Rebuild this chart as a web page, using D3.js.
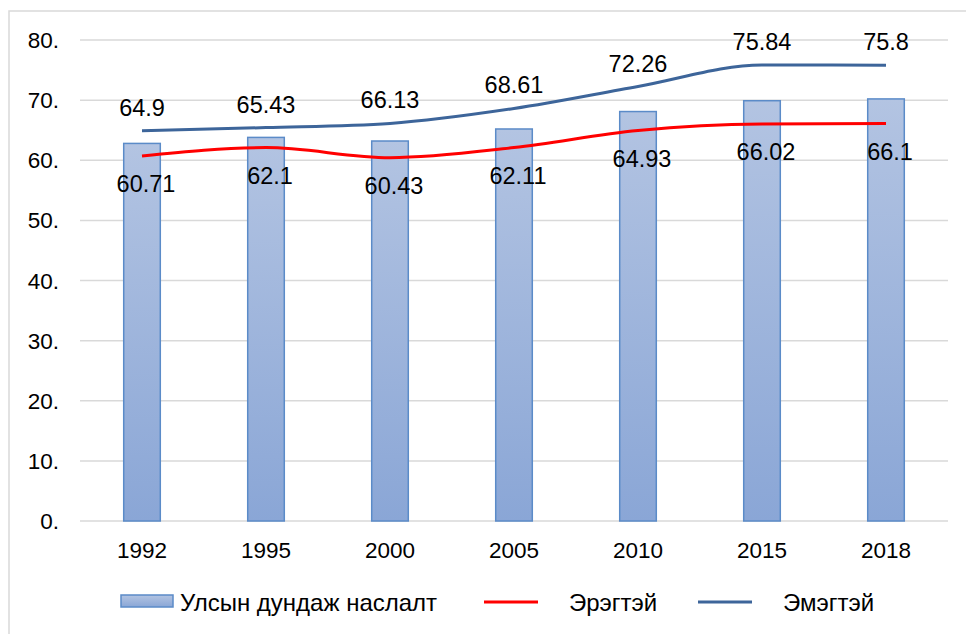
<!DOCTYPE html>
<html>
<head>
<meta charset="utf-8">
<script src="https://cdn.jsdelivr.net/npm/d3@7"></script>
<style>
  body { margin: 0; background: #fff; }
  text { font-family: "Liberation Sans", Arial, sans-serif; fill: #000; }
</style>
</head>
<body>
<div class="chart"></div>
<script>
var years = ["1992", "1995", "2000", "2005", "2010", "2015", "2018"];
var average = [62.8, 63.8, 63.2, 65.2, 68.1, 69.9, 70.2];
var male = [60.71, 62.1, 60.43, 62.11, 64.93, 66.02, 66.1];
var female = [64.9, 65.43, 66.13, 68.61, 72.26, 75.84, 75.8];
var yTicks = [0, 10, 20, 30, 40, 50, 60, 70, 80];
var legendLabels = ["Улсын дундаж наслалт", "Эрэгтэй", "Эмэгтэй"];

function make_chart() {
    var w = 966, h = 634;

    var svg = d3.select(".chart").append("svg")
                .attr("width", w)
                .attr("height", h);

    var defs = svg.append("defs");
    var grad = defs.append("linearGradient")
                   .attr("id", "barfill")
                   .attr("x1", 0).attr("y1", 0)
                   .attr("x2", 0).attr("y2", 1);
    grad.append("stop").attr("offset", "0%").attr("stop-color", "#b3c4e2");
    grad.append("stop").attr("offset", "100%").attr("stop-color", "#8aa6d6");

    // outer frame, runs off the right and bottom edge
    svg.append("rect")
       .attr("x", 9).attr("y", 11)
       .attr("width", 980).attr("height", 660)
       .attr("fill", "none")
       .attr("stroke", "#d9d9d9")
       .attr("stroke-width", 1.5);

    var x = d3.scaleBand()
              .domain(years)
              .range([80, 948])
              .padding(0);

    var y = d3.scaleLinear()
              .domain([0, 80])
              .range([521, 40]);

    // gridlines
    svg.append("g")
       .selectAll("line")
       .data(yTicks)
       .enter()
       .append("line")
       .attr("x1", 80).attr("x2", 948)
       .attr("y1", function(d) { return y(d); })
       .attr("y2", function(d) { return y(d); })
       .attr("stroke", "#d9d9d9")
       .attr("stroke-width", 1.5);

    // y labels
    svg.append("g")
       .selectAll("text")
       .data(yTicks)
       .enter()
       .append("text")
       .attr("x", 59)
       .attr("y", function(d) { return y(d) + 8; })
       .attr("text-anchor", "end")
       .style("font-size", "22.5px")
       .text(function(d) { return d + "."; });

    // x labels
    svg.append("g")
       .selectAll("text")
       .data(years)
       .enter()
       .append("text")
       .attr("x", function(d) { return x(d) + x.bandwidth() / 2; })
       .attr("y", 558)
       .attr("text-anchor", "middle")
       .style("font-size", "22.5px")
       .text(function(d) { return d; });

    var bw = x.bandwidth() * 0.295;

    svg.append("g")
       .selectAll("rect")
       .data(average)
       .enter()
       .append("rect")
       .attr("x", function(d, i) { return x(years[i]) + x.bandwidth() / 2 - bw / 2; })
       .attr("y", function(d) { return y(d); })
       .attr("width", bw)
       .attr("height", function(d) { return y(0) - y(d); })
       .attr("fill", "url(#barfill)")
       .attr("stroke", "#5b8bc8")
       .attr("stroke-width", 1.5);

    var line = d3.line()
                 .x(function(d, i) { return x(years[i]) + x.bandwidth() / 2; })
                 .y(function(d) { return y(d); })
                 .curve(d3.curveMonotoneX);

    svg.append("path")
       .datum(female)
       .attr("d", line)
       .attr("fill", "none")
       .attr("stroke", "#3d659a")
       .attr("stroke-width", 3);

    svg.append("path")
       .datum(male)
       .attr("d", line)
       .attr("fill", "none")
       .attr("stroke", "#ff0000")
       .attr("stroke-width", 3);

    // data labels
    svg.append("g")
       .selectAll("text")
       .data(female)
       .enter()
       .append("text")
       .attr("x", function(d, i) { return x(years[i]) + x.bandwidth() / 2; })
       .attr("y", function(d) { return y(d) - 15; })
       .attr("text-anchor", "middle")
       .style("font-size", "23.5px")
       .text(function(d) { return d; });

    svg.append("g")
       .selectAll("text")
       .data(male)
       .enter()
       .append("text")
       .attr("x", function(d, i) { return x(years[i]) + x.bandwidth() / 2 + 4; })
       .attr("y", function(d) { return y(d) + 36; })
       .attr("text-anchor", "middle")
       .style("font-size", "23.5px")
       .text(function(d) { return d; });

    // legend
    var leg = svg.append("g");
    leg.append("rect")
       .attr("x", 121).attr("y", 595)
       .attr("width", 52).attr("height", 12)
       .attr("fill", "url(#barfill)")
       .attr("stroke", "#5b8bc8")
       .attr("stroke-width", 1.5);
    leg.append("text")
       .attr("x", 180).attr("y", 611)
       .style("font-size", "24px")
       .text(legendLabels[0]);

    leg.append("line")
       .attr("x1", 484).attr("x2", 538)
       .attr("y1", 602).attr("y2", 602)
       .attr("stroke", "#ff0000")
       .attr("stroke-width", 3);
    leg.append("text")
       .attr("x", 569).attr("y", 611)
       .style("font-size", "24px")
       .text(legendLabels[1]);

    leg.append("line")
       .attr("x1", 698).attr("x2", 752)
       .attr("y1", 602).attr("y2", 602)
       .attr("stroke", "#3d659a")
       .attr("stroke-width", 3);
    leg.append("text")
       .attr("x", 783).attr("y", 611)
       .style("font-size", "24px")
       .text(legendLabels[2]);
}

make_chart();
</script>
</body>
</html>
